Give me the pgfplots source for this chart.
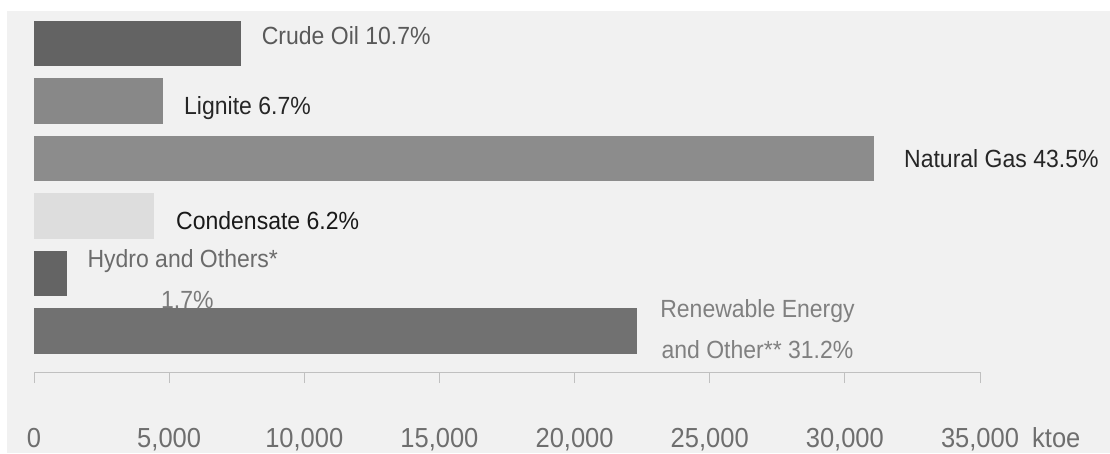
\documentclass[border=0pt]{standalone}
\usepackage{pgfplots}
\pgfplotsset{compat=1.18}
\usepackage{fontspec}
\setmainfont{Liberation Sans}
\definecolor{bg}{HTML}{F1F1F1}
\definecolor{axisgray}{HTML}{C0C0C0}
\definecolor{ticktext}{HTML}{6E6E6E}
\definecolor{cCrude}{HTML}{636363}
\definecolor{cLignite}{HTML}{888888}
\definecolor{cGas}{HTML}{8C8C8C}
\definecolor{cCond}{HTML}{DDDDDD}
\definecolor{cHydro}{HTML}{646464}
\definecolor{cRen}{HTML}{717171}
\newcommand\lf{\fontsize{23}{26}\selectfont}
\begin{document}
\begin{tikzpicture}[x=1pt,y=1pt]
\useasboundingbox (0,0) rectangle (1110,453);
\fill[white] (0,0) rectangle (1110,453);
\fill[bg] (7,0) rectangle (1110,442);
\begin{axis}[
  at={(34pt,81pt)}, anchor=south west,
  scale only axis, width=946pt, height=361pt,
  xmin=0, xmax=35000, ymin=-0.713, ymax=5.565,
  xbar, bar width=45.5pt, bar shift=0pt,
  axis x line*=bottom, axis y line=none,
  xtick={0,5000,10000,15000,20000,25000,30000,35000}, ytick=\empty,
  xtick align=outside, major tick length=11pt,
  x axis line style={draw=axisgray, line width=1pt},
  xtick style={draw=axisgray, line width=1pt},
  scaled x ticks=false,
  /pgf/number format/1000 sep={,},
  /pgf/number format/assume math mode=true,
  xticklabel style={font=\fontsize{25.5}{28}\selectfont, text=ticktext, anchor=base, inner sep=0pt, yshift=-64pt, yscale=1.08},
  clip=false,
]
\addplot[fill=cCrude, draw=none] coordinates {(7650,5)};
\addplot[fill=cLignite, draw=none] coordinates {(4790,4)};
\addplot[fill=cGas, draw=none] coordinates {(31080,3)};
\addplot[fill=cCond, draw=none] coordinates {(4450,2)};
\addplot[fill=cHydro, draw=none] coordinates {(1220,1)};
\addplot[fill=cRen, draw=none] coordinates {(22300,0)};

\begin{scope}[every node/.style={inner sep=0pt, font=\lf, yscale=1.08, transform shape}]
\node[anchor=base west, text=black!65] at (axis cs:8424,4.974) {Crude Oil 10.7\%};
\node[anchor=base west, text=black!85] at (axis cs:5550,3.757) {Lignite 6.7\%};
\node[anchor=base west, text=black!85] at (axis cs:32188,2.852) {Natural Gas 43.5\%};
\node[anchor=base west, text=black!90] at (axis cs:5254,1.757) {Condensate 6.2\%};
\node[anchor=base west, text=black!58] at (axis cs:1972,1.113) {Hydro and Others*};
\node[anchor=base west, text=black!52] at (axis cs:4699,0.4) {1.7\%};
\node[anchor=base, text=black!50] at (axis cs:26768,0.243) {Renewable Energy};
\node[anchor=base, text=black!50] at (axis cs:26768,-0.47) {and Other** 31.2\%};
\end{scope}
\end{axis}
\node[anchor=base west, inner sep=0pt, font=\fontsize{25.5}{28}\selectfont, text=ticktext, yscale=1.08, transform shape] at (1032,6) {ktoe};
\end{tikzpicture}
\end{document}
